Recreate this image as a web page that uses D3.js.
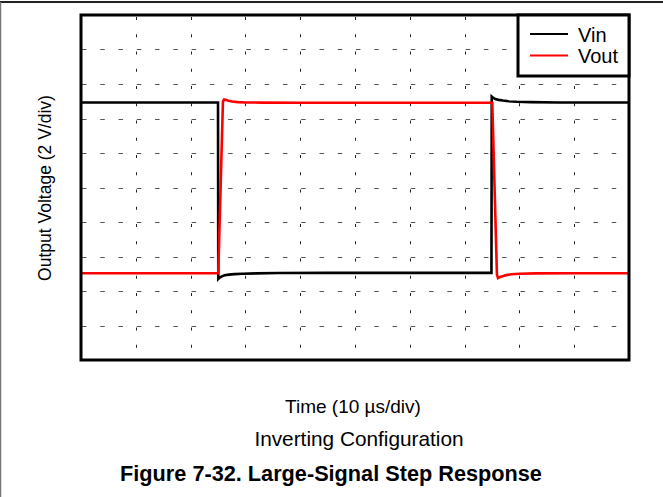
<!DOCTYPE html>
<html><head><meta charset="utf-8">
<script src="https://cdn.jsdelivr.net/npm/d3@7"></script>
<style>body{margin:0;background:#fff}svg{display:block}text{font-family:"Liberation Sans",Arial,sans-serif}</style>
</head><body>
<svg id="c" width="663" height="497"></svg>
<script>
// Time in µs (10 µs/div), voltage in V (2 V/div)
const xTicks = [0,10,20,30,40,50,60,70,80,90,100];
const yTicks = [-10,-8,-6,-4,-2,0,2,4,6,8,10];
const vinT = [0,25.0,25.05,25.3,25.7,26.2,27,28,29.5,32,36,45,60,74.9,74.95,75.2,75.6,76.2,77,78,79.5,82,87,100];
const vinV = [4.93,4.93,-5.3,-5.22,-5.15,-5.09,-5.05,-5.02,-5.0,-4.98,-4.96,-4.95,-4.95,-4.95,5.27,5.2,5.13,5.08,5.04,5.0,4.97,4.95,4.93,4.93];
const voutT = [0,25.05,25.9,26.1,26.4,26.9,27.6,28.6,30,33,40,60,75.05,75.9,76.1,76.4,76.9,77.6,78.6,80,83,90,100];
const voutV = [-4.97,-4.97,4.98,5.1,5.08,5.03,4.99,4.95,4.93,4.92,4.91,4.91,4.91,-5.05,-5.25,-5.2,-5.14,-5.08,-5.03,-5.0,-4.98,-4.97,-4.97];
const seriesNames = ["Vin","Vout"];
const seriesColors = ["#000000","#ff0000"];

const svg = d3.select("#c");
const L=81, R=629, T=15, B=360;
const x = d3.scaleLinear().domain([0,100]).range([L,R]);
const y = d3.scaleLinear().domain([-10,10]).range([B,T]);

// outer frame
svg.append("line").attr("x1",0).attr("x2",663).attr("y1",2).attr("y2",2).attr("stroke","#222").attr("stroke-width",2);
svg.append("line").attr("x1",0.5).attr("x2",0.5).attr("y1",2).attr("y2",497).attr("stroke","#777").attr("stroke-width",1.5);

// grid
const g = svg.append("g");
const dx = (x(10)-x(0))/3;
g.selectAll(".hg").data(yTicks.slice(1,-1)).join("line")
  .attr("x1",L+1).attr("x2",R).attr("y1",d=>Math.round(y(d))+0.5).attr("y2",d=>Math.round(y(d))+0.5)
  .attr("stroke","#555").attr("stroke-width",1)
  .attr("stroke-dasharray",`4.5,${dx-4.5}`);
const dy = (y(0)-y(2))/2;
g.selectAll(".vg").data(xTicks.slice(1,-1)).join("line")
  .attr("x1",d=>Math.round(x(d))+0.5).attr("x2",d=>Math.round(x(d))+0.5).attr("y1",T+2).attr("y2",B)
  .attr("stroke","#222").attr("stroke-width",1)
  .attr("stroke-dasharray",`3,${dy-3}`);

// traces
const line = d3.line().x(d=>x(d[0])).y(d=>y(d[1]));
const vin = vinT.map((t,i)=>[t,vinV[i]]);
const vout = voutT.map((t,i)=>[t,voutV[i]]);
svg.append("path").datum(vin).attr("d",line).attr("fill","none").attr("stroke",seriesColors[0]).attr("stroke-width",2.6);
svg.append("path").datum(vout).attr("d",line).attr("fill","none").attr("stroke",seriesColors[1]).attr("stroke-width",2.6);

// plot border
svg.append("rect").attr("x",L).attr("y",T).attr("width",R-L).attr("height",B-T).attr("fill","none").attr("stroke","#000").attr("stroke-width",3);

// legend
const lg = svg.append("g");
lg.append("rect").attr("x",518).attr("y",T).attr("width",R-518).attr("height",61).attr("fill","#fff").attr("stroke","#000").attr("stroke-width",3);
seriesNames.forEach((n,i)=>{
  const yy = 34 + i*21.5;
  lg.append("line").attr("x1",530).attr("x2",568).attr("y1",yy).attr("y2",yy).attr("stroke",seriesColors[i]).attr("stroke-width",2.2);
  lg.append("text").attr("x",578).attr("y",yy+7.5).attr("font-size",20).attr("fill","#000").text(n);
});

// labels
svg.append("text").attr("transform","translate(51,188) rotate(-90)").attr("text-anchor","middle").attr("font-size",17.5).text("Output Voltage (2 V/div)");
svg.append("text").attr("x",353).attr("y",413).attr("text-anchor","middle").attr("font-size",19).text("Time (10 µs/div)");
svg.append("text").attr("x",359).attr("y",446).attr("text-anchor","middle").attr("font-size",20.8).text("Inverting Configuration");
svg.append("text").attr("x",331).attr("y",481).attr("text-anchor","middle").attr("font-size",21.7).attr("font-weight","bold").text("Figure 7-32. Large-Signal Step Response");
</script>
</body></html>
